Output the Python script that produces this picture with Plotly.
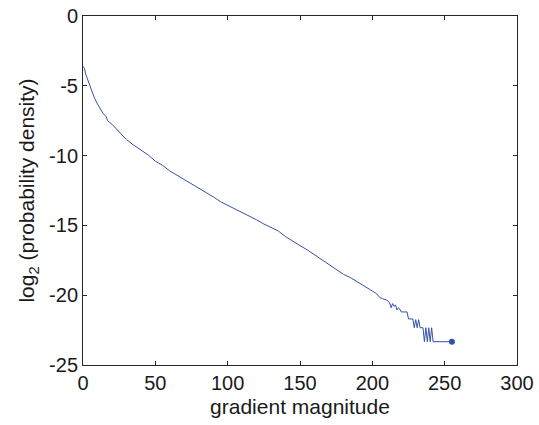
import plotly.graph_objects as go

# gradient magnitude (bin) and log2 probability density
grad = [0, 1, 2, 4, 6, 8, 10, 12, 14, 16, 17, 20, 25, 30, 35, 40, 45, 50, 55, 60,
        65, 70, 75, 80, 85, 90, 95, 100, 105, 110, 115, 120, 125, 130, 135, 140,
        145, 150, 155, 160, 165, 170, 175, 180, 185, 190, 195, 200, 203, 205, 207,
        210, 212, 213, 214, 215, 216, 217, 218, 219, 220, 224, 225, 228, 229, 230,
        231, 232, 233, 234, 235, 236, 237, 238, 239, 240, 241, 242, 243, 250, 255]
log_density = [-3.6, -3.75, -4.2, -4.8, -5.3, -5.9, -6.3, -6.7, -7.0, -7.2, -7.5,
               -7.75, -8.3, -8.85, -9.25, -9.6, -9.95, -10.4, -10.7, -11.1, -11.4,
               -11.75, -12.05, -12.35, -12.65, -12.95, -13.3, -13.55, -13.8, -14.1,
               -14.35, -14.6, -14.9, -15.15, -15.4, -15.8, -16.15, -16.45, -16.75,
               -17.1, -17.45, -17.8, -18.15, -18.5, -18.75, -19.05, -19.4, -19.7,
               -19.9, -20.15, -20.25, -20.35, -20.55, -20.9, -20.6, -20.8, -20.7,
               -21.05, -20.9, -21.0, -21.2, -21.2, -21.7, -21.7, -22.33, -21.75,
               -22.33, -21.75, -22.33, -22.33, -22.33, -23.33, -22.33, -23.33,
               -22.33, -23.33, -22.33, -23.33, -23.33, -23.33, -23.33]

x_ticks = [0, 50, 100, 150, 200, 250, 300]
y_ticks = [0, -5, -10, -15, -20, -25]

line_color = "#3552a8"
axis_color = "#262626"
text_color = "#1a1a1a"
font_family = "Liberation Sans, Arial, Helvetica, sans-serif"

fig = go.Figure()
fig.add_trace(go.Scatter(x=grad, y=log_density, mode="lines",
                         line=dict(color=line_color, width=1), showlegend=False,
                         hoverinfo="skip"))
fig.add_trace(go.Scatter(x=[grad[-1]], y=[log_density[-1]], mode="markers",
                         marker=dict(color=line_color, size=6), showlegend=False))

axis_common = dict(showgrid=False, zeroline=False, showline=True, linecolor=axis_color,
                   linewidth=1, mirror="ticks", ticks="inside", ticklen=4,
                   tickcolor=axis_color, tickwidth=1, automargin=False,
                   tickfont=dict(size=20, color=text_color, family=font_family))

fig.update_xaxes(range=[0, 300], tickvals=x_ticks, ticktext=[str(v) for v in x_ticks],
                 title=dict(text="gradient magnitude", standoff=6,
                            font=dict(size=21, color=text_color, family=font_family)),
                 **axis_common)
fig.update_yaxes(range=[-25, 0], tickvals=y_ticks, ticktext=[str(v) for v in y_ticks],
                 title=dict(text="log<sub>2</sub> (probability density)", standoff=8,
                            font=dict(size=21, color=text_color, family=font_family)),
                 **axis_common)

fig.update_layout(width=539, height=425, margin=dict(l=83, r=22, t=16, b=60),
                  plot_bgcolor="white", paper_bgcolor="white",
                  font=dict(family=font_family))

fig.write_html("out.html", config={"displayModeBar": False},
               post_script="document.body.style.margin='0';document.body.style.overflow='hidden';")
